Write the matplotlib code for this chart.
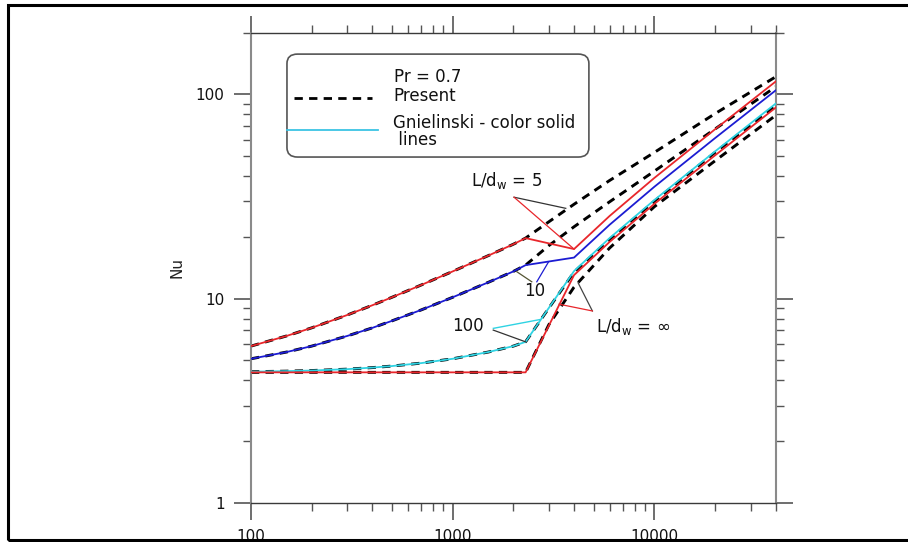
import matplotlib
matplotlib.use("Agg")
import matplotlib.pyplot as plt
from matplotlib.patches import FancyBboxPatch, Rectangle
from matplotlib.lines import Line2D
from matplotlib.ticker import LogLocator, NullFormatter, FixedLocator, FixedFormatter

plt.rcParams['font.family'] = ['DejaVu Sans']
plt.rcParams['lines.scale_dashes'] = False
plt.rcParams['mathtext.default'] = 'regular'

# ---------------- data ----------------
# laminar range (both correlations coincide here)
re_lam = [100, 150, 200, 300, 400, 500, 700, 1000, 1500, 2000, 2300]
nu_lam_5 = [5.86, 6.57, 7.20, 8.32, 9.29, 10.16, 11.68, 13.60, 16.24, 18.48, 19.8]
nu_lam_10 = [5.08, 5.48, 5.86, 6.57, 7.20, 7.79, 8.82, 10.16, 12.02, 13.60, 14.6]
nu_lam_100 = [4.39, 4.42, 4.45, 4.52, 4.60, 4.68, 4.84, 5.08, 5.48, 5.86, 6.15]
nu_lam_inf = [4.36] * len(re_lam)

# Gnielinski, turbulent branch
re_turb = [4000, 6000, 10000, 20000, 40000]
gn_turb_5 = [17.5, 25.4, 39.0, 67.5, 115.7]
gn_turb_10 = [15.9, 23.0, 35.3, 61.1, 104.7]
gn_turb_100 = [13.65, 19.8, 30.4, 52.6, 90.2]
gn_turb_inf = [13.05, 18.96, 29.1, 50.3, 86.2]

# present model, transition + turbulent branch
re_pres = [3000, 4000, 6000, 10000, 20000, 40000]
pr_turb_5 = [23.8, 29.0, 37.9, 52.0, 80.5, 122.0]
pr_turb_10 = [18.2, 22.5, 29.8, 42.1, 67.7, 109.0]
pr_turb_100 = [9.0, 13.5, 19.5, 30.0, 52.0, 88.0]
pr_turb_inf = [7.46, 11.4, 17.7, 28.2, 47.3, 79.0]

RED = '#e8262b'
BLUE = '#1c1cd2'
CYAN = '#2fd3e3'

fig = plt.figure(figsize=(9.08, 5.42), dpi=100)
ax = fig.add_axes([0.2764, 0.0720, 0.5779, 0.8672])

dash = (0, (6.0, 4.5))

# present model (dashed, underneath)
for lam, turb in [(nu_lam_5, pr_turb_5), (nu_lam_10, pr_turb_10),
                  (nu_lam_100, pr_turb_100), (nu_lam_inf, pr_turb_inf)]:
    ax.plot(re_lam + re_pres, lam + turb, color='black', lw=2.1,
            linestyle=dash, zorder=2)

# Gnielinski (solid colour lines)
for lam, turb, c in [(nu_lam_5, gn_turb_5, RED), (nu_lam_10, gn_turb_10, BLUE),
                     (nu_lam_100, gn_turb_100, CYAN), (nu_lam_inf, gn_turb_inf, RED)]:
    ax.plot(re_lam + re_turb, lam + turb, color=c, lw=1.3, zorder=3)

ax.set_xscale('log')
ax.set_yscale('log')
ax.set_xlim(100, 40000)
ax.set_ylim(1, 200)

# axes frame
for side in ['left', 'right']:
    ax.spines[side].set_color('#8a8a8a')
    ax.spines[side].set_linewidth(1.5)
for side in ['top', 'bottom']:
    ax.spines[side].set_color('#3a3a3a')
    ax.spines[side].set_linewidth(1.0)

ax.xaxis.set_major_locator(FixedLocator([100, 1000, 10000]))
ax.xaxis.set_major_formatter(FixedFormatter(['100', '1000', '10000']))
ax.yaxis.set_major_locator(FixedLocator([1, 10, 100]))
ax.yaxis.set_major_formatter(FixedFormatter(['1', '10', '100']))
ax.xaxis.set_minor_locator(LogLocator(base=10, subs=range(2, 10), numticks=20))
ax.yaxis.set_minor_locator(LogLocator(base=10, subs=range(2, 10), numticks=20))
ax.xaxis.set_minor_formatter(NullFormatter())
ax.yaxis.set_minor_formatter(NullFormatter())

ax.tick_params(which='both', direction='out', top=True, right=True,
               labeltop=False, labelright=False, colors='#555555',
               labelcolor='#111111', labelsize=11)
ax.tick_params(which='major', length=12, width=1.2, pad=7)
ax.tick_params(which='minor', length=5.8, width=1.0)

ax.set_ylabel('Nu', fontsize=11, labelpad=8, color='#222222')

# legend box
box = FancyBboxPatch((0.0686, 0.736), 0.5754, 0.219,
                     boxstyle='round,pad=0,rounding_size=0.02',
                     transform=ax.transAxes, facecolor='white',
                     edgecolor='#555555', lw=1.2, zorder=5)
ax.add_patch(box)
ax.add_line(Line2D([0.082, 0.2306], [0.8623, 0.8623], transform=ax.transAxes,
                   color='black', lw=2.0, linestyle=(0, (6.0, 4.5)), zorder=6))
ax.add_line(Line2D([0.0686, 0.242], [0.7936, 0.7936], transform=ax.transAxes,
                   color='#3cc4e4', lw=1.3, zorder=6))
leg_kw = dict(transform=ax.transAxes, fontsize=12, va='baseline', ha='left',
              color='#111111', zorder=7)
ax.text(0.2725, 0.8964, 'Pr = 0.7', **leg_kw)
ax.text(0.2706, 0.8543, 'Present', **leg_kw)
ax.text(0.2706, 0.7617, 'Gnielinski - color solid\n lines', linespacing=0.95,
        **leg_kw)

# curve labels with leader lines
ann_kw = dict(fontsize=12, color='#111111', ha='center', va='center', zorder=8)
ax.text(1862, 37.7, 'L/d$_w$ = 5', **ann_kw)
ax.plot([2016, 3639], [31.4, 27.7], color='#333333', lw=0.9, zorder=8)
ax.plot([2016, 4000], [31.4, 17.5], color=RED, lw=0.9, zorder=8)

ax.text(2563, 10.85, '10', **ann_kw)
ax.plot([2469, 2080], [12.1, 13.56], color='#555533', lw=0.9, zorder=8)
ax.plot([2614, 2984], [12.1, 15.1], color=BLUE, lw=0.9, zorder=8)

ax.text(1192, 7.35, '100', **ann_kw)
ax.plot([1592, 2700], [7.16, 7.9], color=CYAN, lw=1.0, zorder=8)
ax.plot([1590, 2300], [7.02, 6.15], color='#333333', lw=0.9, zorder=8)

ax.text(7850, 7.35, 'L/d$_w$ = \u221e', **ann_kw)
ax.plot([4932, 4188], [8.71, 11.97], color='#444444', lw=0.9, zorder=8)
ax.plot([4932, 3372], [8.71, 9.4], color=RED, lw=0.9, zorder=8)

# outer frame
fig.add_artist(Rectangle((8 / 908, 2 / 542), 1.2, 535 / 542, transform=fig.transFigure,
                         fill=False, edgecolor='black', lw=2.2, clip_on=False))

fig.savefig('out.png', dpi=100)
